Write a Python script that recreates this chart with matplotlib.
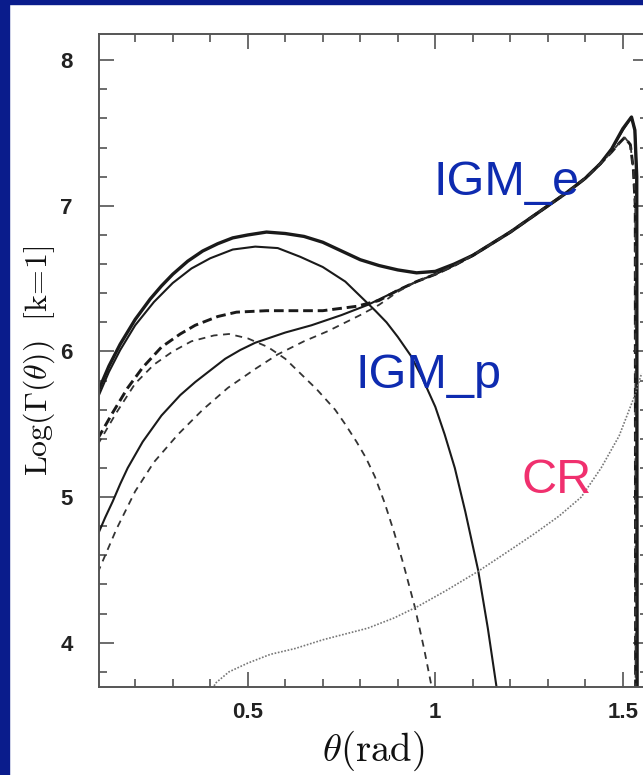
import matplotlib
matplotlib.use("Agg")
import matplotlib.pyplot as plt
from matplotlib.patches import Rectangle

# ---------------- data ----------------
th_total = [0.10, 0.13, 0.16, 0.20, 0.24, 0.27, 0.30, 0.34, 0.38, 0.42, 0.46, 0.50, 0.55,
            0.60, 0.65, 0.70, 0.75, 0.80, 0.85, 0.90, 0.95, 1.00, 1.05, 1.10, 1.15, 1.20,
            1.25, 1.30, 1.35, 1.40, 1.44, 1.47, 1.50, 1.523, 1.532, 1.537, 1.538]
y_total = [5.72, 5.90, 6.05, 6.22, 6.36, 6.45, 6.53, 6.62, 6.69, 6.74, 6.78, 6.80, 6.82,
           6.81, 6.79, 6.75, 6.69, 6.63, 6.59, 6.56, 6.54, 6.55, 6.60, 6.66, 6.74, 6.82,
           6.91, 7.00, 7.09, 7.19, 7.29, 7.39, 7.53, 7.61, 7.52, 7.20, 3.50]

th_p = [0.10, 0.13, 0.16, 0.20, 0.25, 0.30, 0.35, 0.40, 0.46, 0.52, 0.58, 0.64, 0.70, 0.76,
        0.80, 0.84, 0.87, 0.90, 0.935, 0.965, 1.00, 1.025, 1.052, 1.08, 1.114, 1.14, 1.163,
        1.17]
y_p = [5.68, 5.86, 6.01, 6.18, 6.34, 6.47, 6.57, 6.64, 6.70, 6.72, 6.71, 6.65, 6.58, 6.48,
       6.38, 6.28, 6.20, 6.10, 5.97, 5.82, 5.62, 5.43, 5.20, 4.90, 4.50, 4.10, 3.70, 3.58]

th_e = [0.10, 0.12, 0.14, 0.16, 0.18, 0.22, 0.27, 0.32, 0.36, 0.40, 0.44, 0.48, 0.52, 0.60,
        0.67, 0.75, 0.82, 0.90, 0.95, 1.00, 1.05, 1.10, 1.15, 1.20, 1.25, 1.30, 1.35, 1.40,
        1.44, 1.47, 1.50, 1.523, 1.532, 1.537, 1.538]
y_e = [4.74, 4.86, 4.97, 5.09, 5.20, 5.38, 5.56, 5.70, 5.79, 5.87, 5.95, 6.01, 6.06, 6.13,
       6.18, 6.25, 6.32, 6.42, 6.48, 6.53, 6.59, 6.66, 6.74, 6.82, 6.91, 7.00, 7.09, 7.19,
       7.29, 7.39, 7.52, 7.61, 7.52, 7.20, 3.50]

th_dt = [0.10, 0.14, 0.18, 0.22, 0.27, 0.32, 0.36, 0.42, 0.47, 0.55, 0.63, 0.70, 0.79, 0.85,
         0.90, 0.95, 1.00, 1.05, 1.10, 1.15, 1.20, 1.25, 1.30, 1.35, 1.40, 1.44, 1.47, 1.49,
         1.505, 1.52, 1.528, 1.533, 1.534]
y_dt = [5.40, 5.58, 5.75, 5.89, 6.03, 6.12, 6.18, 6.24, 6.27, 6.28, 6.28, 6.28, 6.31, 6.35,
        6.42, 6.48, 6.53, 6.59, 6.66, 6.74, 6.82, 6.91, 7.00, 7.09, 7.19, 7.29, 7.37, 7.43,
        7.47, 7.42, 7.25, 7.00, 3.50]

th_dp = [0.10, 0.15, 0.20, 0.25, 0.30, 0.35, 0.41, 0.45, 0.50, 0.554, 0.60, 0.644, 0.684,
         0.733, 0.76, 0.79, 0.815, 0.839, 0.865, 0.89, 0.915, 0.945, 0.97, 0.99, 1.00]
y_dp = [5.36, 5.58, 5.78, 5.91, 6.00, 6.07, 6.11, 6.12, 6.09, 6.03, 5.95, 5.84, 5.74,
        5.60, 5.50, 5.38, 5.27, 5.14, 4.96, 4.76, 4.54, 4.25, 3.96, 3.70, 3.57]

th_de = [0.10, 0.15, 0.20, 0.25, 0.314, 0.38, 0.447, 0.52, 0.58, 0.65, 0.714, 0.80, 0.85,
         0.90, 0.95, 1.00, 1.05, 1.10, 1.15, 1.20, 1.25, 1.30, 1.35, 1.40, 1.44, 1.47, 1.49,
         1.505, 1.52, 1.528, 1.533, 1.534]
y_de = [4.48, 4.78, 5.04, 5.24, 5.43, 5.60, 5.75, 5.88, 5.98, 6.07, 6.14, 6.25, 6.32,
        6.41, 6.48, 6.53, 6.59, 6.66, 6.74, 6.82, 6.91, 7.00, 7.09, 7.19, 7.29, 7.37, 7.43,
        7.47, 7.42, 7.25, 7.00, 3.50]

th_cr = [0.405, 0.413, 0.45, 0.50, 0.56, 0.626, 0.70, 0.76, 0.82, 0.89, 0.954, 1.03, 1.114,
         1.19, 1.265, 1.33, 1.389, 1.442, 1.49, 1.532, 1.55]
y_cr = [3.66, 3.72, 3.80, 3.86, 3.92, 3.96, 4.02, 4.06, 4.10, 4.17, 4.25, 4.36, 4.49,
        4.62, 4.75, 4.87, 5.00, 5.20, 5.42, 5.70, 5.85]

x_ticks = [0.5, 1.0, 1.5]
x_ticklabels = ["0.5", "1", "1.5"]
y_ticks = [4, 5, 6, 7, 8]
y_ticklabels = ["4", "5", "6", "7", "8"]

labels = ["IGM_e", "IGM_p", "CR"]

# ---------------- figure ----------------
plt.rcParams["mathtext.fontset"] = "cm"
plt.rcParams["lines.scale_dashes"] = False

W, H = 643, 775
fig = plt.figure(figsize=(W / 100, H / 100), dpi=100, facecolor="white")

# dark-blue slide border (left and top)
fig.patches.append(Rectangle((0, 0), 9 / W, 1, transform=fig.transFigure,
                             color="#0a1c8c", zorder=0))
fig.patches.append(Rectangle((0, 1 - 4 / H), 1, 4 / H, transform=fig.transFigure,
                             color="#0a1c8c", zorder=0))

left, right, bottom, top = 99, 648, 687, 34
ax = fig.add_axes([left / W, 1 - bottom / H, (right - left) / W, (bottom - top) / H])
ax.set_xlim(0.1035, 1.567)
ax.set_ylim(3.696, 8.18)

ink = "#1a1a1a"
ax.plot(th_total, y_total, color=ink, lw=2.4, solid_joinstyle="round")
ax.plot(th_p, y_p, color=ink, lw=1.5)
ax.plot(th_e, y_e, color=ink, lw=1.5)
ax.plot(th_dt, y_dt, color=ink, lw=2.1, dashes=(7, 3.5))
ax.plot(th_dp, y_dp, color="#333333", lw=1.3, dashes=(5, 4))
ax.plot(th_de, y_de, color="#333333", lw=1.3, dashes=(5, 4))
ax.plot(th_cr, y_cr, color="#777777", lw=1.2, dashes=(1.2, 1.2))

# labels on the curves
ax.text(0.994, 7.077, labels[0], color="#0e2bb0", fontsize=35,
        family="Liberation Sans", ha="left", va="baseline")
ax.text(0.786, 5.75, labels[1], color="#0e2bb0", fontsize=35,
        family="Liberation Sans", ha="left", va="baseline")
ax.text(1.231, 5.03, labels[2], color="#f0306e", fontsize=35,
        family="Liberation Sans", ha="left", va="baseline")

# axes styling
for sp in ax.spines.values():
    sp.set_color("#555555")
    sp.set_linewidth(1.4)

ax.set_xticks(x_ticks)
ax.set_xticklabels(x_ticklabels)
ax.set_yticks(y_ticks)
ax.set_yticklabels(y_ticklabels)
ax.set_xticks([0.2, 0.3, 0.4, 0.6, 0.7, 0.8, 0.9, 1.1, 1.2, 1.3, 1.4], minor=True)
ax.set_yticks([3.8, 4.2, 4.4, 4.6, 4.8, 5.2, 5.4, 5.6, 5.8, 6.2, 6.4, 6.6, 6.8,
               7.2, 7.4, 7.6, 7.8], minor=True)
ax.tick_params(which="both", direction="in", top=True, right=True, color="#444444",
               width=1.1)
ax.tick_params(which="major", length=11)
ax.tick_params(which="minor", length=6)
ax.tick_params(axis="y", which="major", pad=19)
ax.tick_params(axis="x", which="major", pad=11)

tick_font = ["Liberation Sans Narrow", "Liberation Sans"]
for t in ax.get_xticklabels() + ax.get_yticklabels():
    t.set_family(tick_font)
    t.set_fontweight("bold")
    t.set_fontsize(16)
    t.set_color("#222222")

ax.set_xlabel(r"$\theta(\mathrm{rad})$", fontsize=28, color="#111111")
ax.xaxis.set_label_coords((373 - left) / (right - left), (bottom - 729) / (bottom - top))
ax.set_ylabel(r"$\mathrm{Log}(\Gamma(\theta))\ \ [\mathrm{k\!=\!1}]$", fontsize=23,
              color="#111111")
ax.yaxis.set_label_coords((39 - left) / (right - left), (bottom - 361) / (bottom - top))
ax.yaxis.label.set_va("center")

fig.savefig("out.png", dpi=100, facecolor="white")
